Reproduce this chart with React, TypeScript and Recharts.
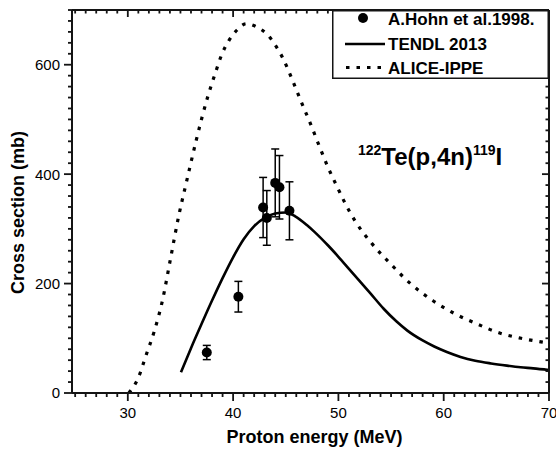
import React from 'react';
import { ComposedChart, Line, Scatter, XAxis, YAxis, ErrorBar, Legend, Label } from 'recharts';

const FONT = '"Liberation Sans", Arial, Helvetica, sans-serif';
const INK = '#000';
const FRAME = '#141414';

// Axis ticks
const xMajorTicks = [30, 40, 50, 60, 70];
const xAllTicks: number[] = [];
for (let v = 25; v <= 70; v += 1) xAllTicks.push(v);
const yMajorTicks = [0, 200, 400, 600];
const yAllTicks: number[] = [];
for (let v = 0; v <= 700; v += 20) yAllTicks.push(v);

// ALICE-IPPE (dotted)
const aliceEnergy = [30.1, 31.0, 31.75, 32.5, 33.3, 34.05, 34.85, 35.55, 36.5, 37.05, 37.6, 38.3, 38.95, 39.6, 40.35, 41.25, 42.25, 43.35, 44.1, 44.75, 45.65, 46.45, 47.35, 48.15, 49.0, 50.0, 50.5, 51.6, 53.1, 55.0, 56.9, 58.95, 61.05, 63.2, 65.25, 67.35, 69.4, 70.0];
const aliceSigma = [0, 28, 70, 112, 170, 245, 325, 384, 462, 504, 542, 584, 620, 644, 663, 675, 669, 653, 633, 611, 571, 533, 492, 453, 413, 372, 352, 314, 275, 235, 199, 169, 145, 126, 110, 100, 93, 91];

// TENDL 2013 (solid)
const tendlEnergy = [35.05, 36.0, 37.0, 38.0, 39.0, 40.0, 41.0, 42.0, 43.0, 44.0, 45.0, 45.9, 47.0, 47.7, 49.0, 50.0, 51.0, 52.0, 53.0, 54.3, 55.5, 56.55, 58.0, 59.1, 60.3, 61.6, 63.0, 64.5, 66.0, 67.3, 68.5, 70.0];
const tendlSigma = [38, 82, 126, 169, 210, 248, 281, 305, 320, 328, 330, 323, 307, 295, 270, 249, 227, 205, 183, 154, 131, 114, 96, 85, 75, 66, 59, 54, 50, 47, 45, 42];

// A.Hohn et al. 1998 (points with error bars)
const hohnEnergy = [37.5, 40.5, 42.85, 43.2, 44.0, 44.4, 45.35];
const hohnSigma = [74, 176, 339, 320, 384, 376, 333];
const hohnError = [13, 28, 55, 50, 62, 58, 53];

const legendNames = ['A.Hohn et al.1998.', 'TENDL 2013', 'ALICE-IPPE'];

const aliceData = aliceEnergy.map((e, i) => ({ e, v: aliceSigma[i] }));
const tendlData = tendlEnergy.map((e, i) => ({ e, v: tendlSigma[i] }));
const hohnData = hohnEnergy.map((e, i) => ({ e, v: hohnSigma[i], err: hohnError[i] }));

const DOT_DASH = '3.5 7';
const TW = 1.8;

const BottomTick = (props: any) => {
  const x = Number(props.x), y = Number(props.y);
  const major = xMajorTicks.includes(props.payload.value);
  return (
    <g>
      <rect x={x - TW / 2} y={y} width={TW} height={major ? 8 : 4} fill={FRAME} />
      {major && (
        <text x={x} y={y + 25} textAnchor="middle" fontSize={15} fontFamily={FONT} fill={INK}>
          {props.payload.value}
        </text>
      )}
    </g>
  );
};

const TopTick = (props: any) => {
  const x = Number(props.x), y = Number(props.y);
  const major = xMajorTicks.includes(props.payload.value);
  return (
    <g>
      <rect x={x - TW / 2} y={y} width={TW} height={major ? 7 : 3.5} fill={FRAME} />
    </g>
  );
};

const LeftTick = (props: any) => {
  const x = Number(props.x), y = Number(props.y);
  const major = yMajorTicks.includes(props.payload.value);
  const len = major ? 8 : 4;
  return (
    <g>
      <rect x={x - len} y={y - TW / 2} width={len} height={TW} fill={FRAME} />
      {major && (
        <text x={x - 12} y={y} dy="0.36em" textAnchor="end" fontSize={15} fontFamily={FONT} fill={INK}>
          {props.payload.value}
        </text>
      )}
    </g>
  );
};

const RightTick = (props: any) => {
  const x = Number(props.x), y = Number(props.y);
  const major = yMajorTicks.includes(props.payload.value);
  const len = major ? 7 : 3.5;
  return (
    <g>
      <rect x={x - len} y={y - TW / 2} width={len} height={TW} fill={FRAME} />
    </g>
  );
};

const XTitle = (props: any) => {
  const vb = props.viewBox;
  return (
    <text x={vb.x + vb.width / 2 + 4} y={vb.y + 50} textAnchor="middle" fontSize={18} fontWeight="bold" fontFamily={FONT} fill={INK}>
      Proton energy (MeV)
    </text>
  );
};

const YTitle = (props: any) => {
  const vb = props.viewBox;
  const cx = vb.x + 18;
  const cy = vb.y + vb.height / 2 + 11;
  return (
    <text x={cx} y={cy} transform={`rotate(-90 ${cx} ${cy})`} textAnchor="middle" dy="0.36em" fontSize={18} fontWeight="bold" fontFamily={FONT} fill={INK}>
      Cross section (mb)
    </text>
  );
};

const PointShape = (props: any) => <circle cx={props.cx} cy={props.cy} r={5} fill={INK} />;

const LegendBox = () => (
  <svg width={217} height={69} style={{ display: 'block' }}>
    <rect x={0.75} y={0.75} width={215.5} height={67.5} fill="#fff" stroke={FRAME} strokeWidth={1.5} />
    <circle cx={31} cy={8} r={5} fill={INK} />
    <text x={56} y={15} fontSize={17} fontWeight="bold" fontFamily={FONT} fill={INK}>{legendNames[0]}</text>
    <line x1={13} y1={34} x2={53} y2={34} stroke={INK} strokeWidth={2.5} />
    <text x={56} y={40} fontSize={17} fontWeight="bold" fontFamily={FONT} fill={INK}>{legendNames[1]}</text>
    <line x1={14} y1={57.5} x2={53} y2={57.5} stroke={INK} strokeWidth={3.2} strokeDasharray={DOT_DASH} />
    <text x={56} y={63.5} fontSize={17} fontWeight="bold" fontFamily={FONT} fill={INK}>{legendNames[2]}</text>
  </svg>
);

const axisLineStyle = { stroke: FRAME, strokeWidth: 2 };

export default function App() {
  return (
    <div style={{ position: 'absolute', left: 0, top: 0, width: 556, height: 454, background: '#fff' }}>
      <ComposedChart width={556} height={454} margin={{ top: 0, right: 0, bottom: 0, left: 0 }}>
        <XAxis xAxisId="x" dataKey="e" type="number" domain={[24.7, 70]} allowDataOverflow ticks={xAllTicks} interval={0}
          tickSize={0} tickMargin={0} tickLine={false} tick={<BottomTick />} height={61} axisLine={axisLineStyle}>
          <Label content={<XTitle />} />
        </XAxis>
        <XAxis xAxisId="top" dataKey="e" type="number" orientation="top" domain={[24.7, 70]} allowDataOverflow ticks={xAllTicks} interval={0}
          tickSize={0} tickMargin={0} tickLine={false} tick={<TopTick />} height={10} axisLine={axisLineStyle} />
        <YAxis yAxisId="y" type="number" domain={[0, 700]} allowDataOverflow ticks={yAllTicks} interval={0}
          tickSize={0} tickMargin={0} tickLine={false} tick={<LeftTick />} width={72} axisLine={axisLineStyle}>
          <Label content={<YTitle />} />
        </YAxis>
        <YAxis yAxisId="right" type="number" orientation="right" domain={[0, 700]} allowDataOverflow ticks={yAllTicks} interval={0}
          tickSize={0} tickMargin={0} tickLine={false} tick={<RightTick />} width={7} axisLine={axisLineStyle} />
        <Line xAxisId="top" yAxisId="right" data={aliceData} dataKey="v" type="monotone" stroke={INK} strokeWidth={3.2}
          strokeDasharray={DOT_DASH} dot={false} activeDot={false} isAnimationActive={false} name={legendNames[2]} />
        <Line xAxisId="x" yAxisId="y" data={tendlData} dataKey="v" type="monotone" stroke={INK} strokeWidth={2.6}
          dot={false} activeDot={false} isAnimationActive={false} name={legendNames[1]} />
        <Scatter xAxisId="x" yAxisId="y" data={hohnData} dataKey="v" shape={<PointShape />} isAnimationActive={false} name={legendNames[0]}>
          <ErrorBar dataKey="err" direction="y" width={4} stroke={INK} strokeWidth={1.5} isAnimationActive={false} />
        </Scatter>
        <Legend layout="horizontal" verticalAlign="middle" align="center" content={<LegendBox />}
          wrapperStyle={{ left: 332, top: 10, width: 217, height: 69 }} />
      </ComposedChart>
      <svg width={556} height={454} style={{ position: 'absolute', left: 0, top: 0, pointerEvents: 'none' }}>
        <text x={358} y={165} fontFamily={FONT} fontWeight="bold" fill={INK}>
          <tspan fontSize={14} dy={-10}>122</tspan>
          <tspan fontSize={24} dy={10}>Te(p,4n)</tspan>
          <tspan fontSize={14} dy={-10}>119</tspan>
          <tspan fontSize={24} dy={10}>I</tspan>
        </text>
      </svg>
    </div>
  );
}
